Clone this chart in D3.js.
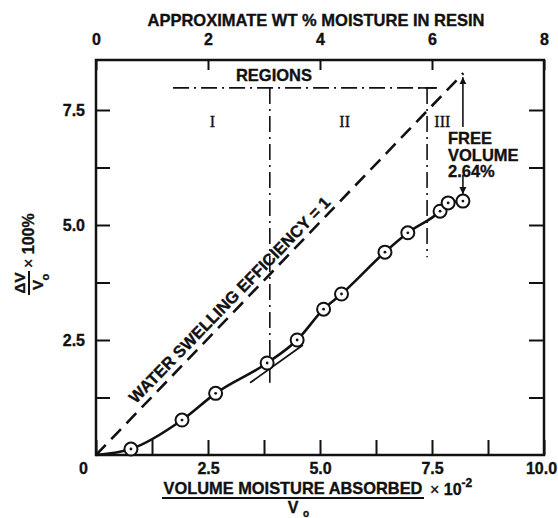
<!DOCTYPE html>
<html>
<head>
<meta charset="utf-8">
<script src="https://cdn.jsdelivr.net/npm/d3@7"></script>
<style>
  body { margin: 0; background: #fff; }
  text { font-family: "Liberation Sans", Arial, sans-serif; font-weight: bold; fill: #111; stroke: #111; stroke-width: 0.35; }
  .roman { font-family: "Liberation Serif", serif; font-weight: normal; }
</style>
</head>
<body>
<div class="canvas"></div>
<script>
// data
const moisture = [0.78, 1.92, 2.67, 3.82, 4.49, 5.08, 5.48, 6.45, 6.96, 7.68, 7.86, 8.19];
const swelling = [0.13, 0.76, 1.34, 2.00, 2.50, 3.17, 3.50, 4.41, 4.83, 5.30, 5.48, 5.52];
const efficiencyLine = [[0, 0], [8.2, 8.3]];
const tangentLine = [[3.44, 1.57], [4.62, 2.39]];
const bottomTicks = [0, 1.25, 2.5, 3.75, 5, 6.25, 7.5, 8.75, 10];
const leftTicks = [1.25, 2.5, 3.75, 5, 6.25, 7.5];
const topTicks = [0, 2, 4, 6, 8];
const xLabels = ['0', '2.5', '5.0', '7.5', '10.0'];
const yLabels = ['2.5', '5.0', '7.5'];
const regionNames = ['I', 'II', 'III'];
const regionLabelX = [2.60, 5.55, 7.73];
const regionBounds = [3.88, 7.39];
const regionTop = 7.98;
const freeVolume = ['FREE', 'VOLUME', '2.64%'];

const width = 558, height = 518;
const svg = d3.select('.canvas')
    .append('svg')
    .attr('width', width)
    .attr('height', height);

// scales
const x = d3.scaleLinear().domain([0, 10]).range([96, 544]);
const xTop = d3.scaleLinear().domain([0, 8]).range([96, 544]);
const y = d3.scaleLinear().domain([0, 8.587]).range([455, 60]);

// axes
const xAxis = d3.axisBottom(x)
    .tickValues(bottomTicks)
    .tickSize(-15).tickSizeOuter(0).tickPadding(8)
    .tickFormat(d => d % 2.5 === 0 ? xLabels[d / 2.5] : '');
const yAxis = d3.axisLeft(y)
    .tickValues(leftTicks)
    .tickSize(-14).tickSizeOuter(0).tickPadding(11)
    .tickFormat(d => d % 2.5 === 0 ? yLabels[d / 2.5 - 1] : '');
const yAxisRight = d3.axisRight(y)
    .tickValues(leftTicks)
    .tickSize(-15).tickSizeOuter(0)
    .tickFormat('');
const topAxis = d3.axisTop(xTop)
    .tickValues(topTicks)
    .tickSize(-10).tickSizeOuter(0).tickPadding(15);

const styleAxis = g => {
    g.select('.domain').remove();
    g.selectAll('line').attr('stroke', '#111').attr('stroke-width', 2);
    g.selectAll('text').attr('font-size', 16).attr('font-family', null).attr('fill', '#111');
};

const bottomG = svg.append('g').attr('transform', `translate(0,${y(0)})`).call(xAxis).call(styleAxis);
bottomG.selectAll('.tick text').filter(d => d === 0).attr('dx', -13);
bottomG.selectAll('.tick text').filter(d => d === 10).attr('dx', -3);
svg.append('g').attr('transform', `translate(${x(0)},0)`).call(yAxis).call(styleAxis);
svg.append('g').attr('transform', `translate(${x(10)},0)`).call(yAxisRight).call(styleAxis);
svg.append('g').attr('transform', `translate(0,${y.range()[1]})`).call(topAxis).call(styleAxis);

// frame
svg.append('rect')
    .attr('x', x(0)).attr('y', y.range()[1])
    .attr('width', x(10) - x(0)).attr('height', y(0) - y.range()[1])
    .attr('fill', 'none').attr('stroke', '#111').attr('stroke-width', 2.5);

// titles
svg.append('text')
    .attr('x', 316).attr('y', 26)
    .attr('text-anchor', 'middle').attr('font-size', 16.5)
    .text('APPROXIMATE WT % MOISTURE IN RESIN');

const xt = svg.append('g');
xt.append('text').attr('x', 293).attr('y', 494).attr('text-anchor', 'middle')
    .attr('font-size', 16.4).text('VOLUME MOISTURE ABSORBED');
xt.append('line').attr('x1', 162).attr('x2', 424).attr('y1', 498).attr('y2', 498)
    .attr('stroke', '#111').attr('stroke-width', 2);
xt.append('text').attr('x', 430).attr('y', 495).attr('font-size', 16)
    .html('<tspan font-weight="normal">×</tspan> 10<tspan dy="-8" font-size="12">-2</tspan>');
xt.append('text').attr('x', 293).attr('y', 513).attr('text-anchor', 'middle')
    .attr('font-size', 16).text('V');
xt.append('text').attr('x', 303).attr('y', 517).attr('font-size', 10).text('o');

const yt = svg.append('g').attr('transform', 'translate(29,283) rotate(-90)');
yt.append('text').attr('x', 0).attr('y', -4).attr('text-anchor', 'middle')
    .attr('font-size', 15).text('ΔV');
yt.append('line').attr('x1', -12).attr('x2', 12).attr('stroke', '#111').attr('stroke-width', 2);
yt.append('text').attr('x', -2).attr('y', 14).attr('text-anchor', 'middle')
    .attr('font-size', 15).text('V');
yt.append('text').attr('x', 6).attr('y', 20).attr('text-anchor', 'middle')
    .attr('font-size', 11).text('o');
yt.append('text').attr('x', 15).attr('y', 5).attr('font-size', 16)
    .html('<tspan font-weight="normal">×</tspan> 100%');

// regions
const dashDot = '16,5,2,5';
const regions = svg.append('g').attr('stroke', '#111').attr('stroke-width', 1.6)
    .attr('stroke-dasharray', dashDot).attr('fill', 'none');
regions.append('line')
    .attr('x1', x(1.72)).attr('x2', x(7.61))
    .attr('y1', y(regionTop)).attr('y2', y(regionTop));
regions.append('line')
    .attr('x1', x(regionBounds[0])).attr('x2', x(regionBounds[0]))
    .attr('y1', y(regionTop)).attr('y2', y(1.57));
regions.append('line')
    .attr('x1', x(regionBounds[1])).attr('x2', x(regionBounds[1]))
    .attr('y1', y(regionTop)).attr('y2', y(4.3));
svg.append('line')
    .attr('x1', x(regionBounds[1]) - 9).attr('x2', x(regionBounds[1]) + 9)
    .attr('y1', y(regionTop)).attr('y2', y(regionTop))
    .attr('stroke', '#111').attr('stroke-width', 1.6);

svg.append('text').attr('x', 274).attr('y', 81).attr('text-anchor', 'middle')
    .attr('font-size', 16.5).text('REGIONS');
svg.selectAll('.roman').data(regionNames).join('text')
    .attr('class', 'roman')
    .attr('x', (d, i) => x(regionLabelX[i]))
    .attr('y', 127)
    .attr('text-anchor', 'middle')
    .attr('font-size', 16)
    .attr('stroke-width', 0.6)
    .text(d => d);

// water swelling efficiency = 1
const line = d3.line().x(d => x(d[0])).y(d => y(d[1]));
svg.append('path')
    .attr('d', line(efficiencyLine))
    .attr('fill', 'none').attr('stroke', '#111').attr('stroke-width', 2.6)
    .attr('stroke-dasharray', '14,8');

const angle = Math.atan2(y(0) - y(1), x(1) - x(0)) * 180 / Math.PI;
const px = x(3.18), py = y(3.18);
svg.append('text')
    .attr('transform', `translate(${px - 4.8},${py - 4.8}) rotate(${-angle})`)
    .attr('text-anchor', 'middle').attr('font-size', 16.5)
    .text('WATER SWELLING EFFICIENCY = 1');

// tangent line
svg.append('path')
    .attr('d', line(tangentLine))
    .attr('fill', 'none').attr('stroke', '#111').attr('stroke-width', 1.8);

// measured curve
const pts = moisture.map((m, i) => [m, swelling[i]]);
const curve = d3.line().x(d => x(d[0])).y(d => y(d[1])).curve(d3.curveMonotoneX);
svg.append('path')
    .attr('d', curve([[0, 0], ...pts]))
    .attr('fill', 'none').attr('stroke', '#111').attr('stroke-width', 2.6);

const marks = svg.selectAll('.pt').data(pts).join('g')
    .attr('class', 'pt')
    .attr('transform', d => `translate(${x(d[0])},${y(d[1])})`);
marks.append('circle').attr('r', 6.5)
    .attr('fill', '#fff').attr('stroke', '#111').attr('stroke-width', 2);
marks.append('circle').attr('r', 1.4).attr('fill', '#111');

// free volume arrows
const defs = svg.append('defs');
defs.append('marker')
    .attr('id', 'head').attr('viewBox', '0 0 10 10')
    .attr('refX', 10).attr('refY', 5)
    .attr('markerWidth', 7).attr('markerHeight', 8)
    .attr('markerUnits', 'userSpaceOnUse')
    .attr('orient', 'auto')
    .append('path').attr('d', 'M0,0L10,5L0,10Z').attr('fill', '#111');

const last = pts[pts.length - 1];
svg.append('line')
    .attr('x1', x(last[0])).attr('x2', x(last[0]))
    .attr('y1', y(7.13)).attr('y2', y(efficiencyLine[1][1]) + 4)
    .attr('stroke', '#111').attr('stroke-width', 1.6)
    .attr('marker-end', 'url(#head)');
svg.append('line')
    .attr('x1', x(last[0])).attr('x2', x(last[0]))
    .attr('y1', y(6.09)).attr('y2', y(last[1]) - 7)
    .attr('stroke', '#111').attr('stroke-width', 1.6)
    .attr('marker-end', 'url(#head)');

svg.append('text')
    .attr('x', 448).attr('y', 144)
    .attr('font-size', 16.5)
    .selectAll('tspan').data(freeVolume).join('tspan')
    .attr('x', 448).attr('dy', (d, i) => i === 0 ? 0 : 16.5)
    .text(d => d);
</script>
</body>
</html>
